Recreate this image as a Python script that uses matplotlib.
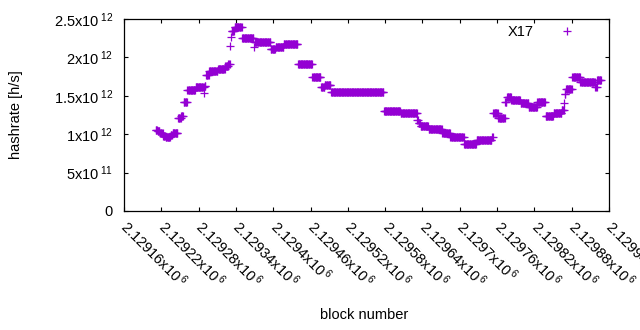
#!/usr/bin/env python3
"""Hashrate per block, gnuplot-like look. Writes out.png."""
import numpy as np
import matplotlib

matplotlib.use("Agg")
import matplotlib.pyplot as plt
from matplotlib.ticker import FuncFormatter, MultipleLocator

plt.rcParams.update(
    {
        "font.family": ["Liberation Sans", "DejaVu Sans"],
        "font.size": 10.5,
        "mathtext.fontset": "custom",
        "mathtext.rm": "Liberation Sans",
        "mathtext.it": "Liberation Sans",
        "mathtext.bf": "Liberation Sans",
    }
)

# block numbers are offsets from this one
block_base = 2129160
# runs of constant hashrate: first block, last block, hashrate (x10^12 h/s)
run_first = [51, 54, 58, 63, 67, 75, 78, 87, 92, 96, 102, 115, 129, 130, 132,
             137, 151, 163, 168, 171, 172, 173, 178, 190, 209, 210, 236, 244,
             257, 280, 303, 317, 323, 333, 418, 445, 472, 474, 477, 490, 512,
             525, 547, 567, 592, 594, 602, 613, 616, 623, 638, 651, 665, 678,
             691, 704, 708, 709, 711, 721, 734, 758, 761]
run_last = [53, 57, 62, 66, 74, 77, 86, 91, 95, 101, 114, 128, 129, 131, 136,
            150, 162, 167, 170, 171, 172, 177, 189, 208, 209, 235, 243, 256,
            279, 302, 316, 322, 332, 417, 444, 471, 473, 476, 489, 511, 524,
            546, 566, 591, 593, 601, 612, 615, 622, 637, 650, 664, 677, 690,
            703, 707, 708, 710, 720, 733, 757, 760, 767]
run_rate = [1.06, 1.04, 1.01, 0.98, 0.96, 0.99, 1.02, 1.21, 1.24, 1.42, 1.57,
            1.61, 1.53, 1.63, 1.77, 1.82, 1.85, 1.89, 1.92, 2.15, 2.26, 2.34,
            2.39, 2.25, 2.14, 2.20, 2.11, 2.13, 2.17, 1.91, 1.75, 1.62, 1.64,
            1.55, 1.30, 1.27, 1.19, 1.15, 1.11, 1.07, 1.01, 0.96, 0.87, 0.93,
            0.97, 1.27, 1.21, 1.42, 1.48, 1.45, 1.40, 1.36, 1.415, 1.24, 1.28,
            1.31, 1.40, 1.52, 1.59, 1.74, 1.68, 1.61, 1.71]
series_name = "X17"


def sci_label(v, _pos=None):
    if v == 0:
        return "0"
    exp = int(np.floor(np.log10(abs(v)) + 1e-9))
    mant = v / 10**exp
    return f"{mant:g}x10$^{{\\;{exp}}}$"


def main() -> None:
    blocks = np.concatenate(
        [np.arange(a, b + 1) for a, b in zip(run_first, run_last)]
    ) + block_base
    rates = np.concatenate(
        [np.full(b - a + 1, r) for a, b, r in zip(run_first, run_last, run_rate)]
    ) * 1e12

    fig = plt.figure(figsize=(6.4, 3.3), dpi=100)
    ax = fig.add_axes([124 / 640, 1 - 211 / 330, 485 / 640, 192 / 330])
    ax.plot(blocks, rates, ls="none", marker="+", ms=6, mew=0.9,
            color="#9400d3", label=series_name)

    ax.set_xlim(block_base, block_base + 780)
    ax.set_ylim(0, 2.5e12)
    ax.xaxis.set_major_locator(MultipleLocator(60))
    ax.yaxis.set_major_locator(MultipleLocator(5e11))
    ax.xaxis.set_major_formatter(FuncFormatter(sci_label))
    ax.yaxis.set_major_formatter(FuncFormatter(sci_label))
    ax.tick_params(direction="in", length=3, width=0.8, top=True, right=True)
    ax.tick_params(axis="y", pad=8)
    ax.tick_params(axis="x", pad=9)
    for lab in ax.get_xticklabels():
        lab.set_rotation(-45)
        lab.set_rotation_mode("anchor")
        lab.set_ha("left")
        lab.set_va("center")
    for s in ax.spines.values():
        s.set_linewidth(0.9)

    ax.set_xlabel("block number")
    ax.set_ylabel("hashrate [h/s]")
    ax.xaxis.set_label_coords((364 - 124) / 485, (211 - 315) / 192)
    ax.xaxis.label.set_va("center")
    ax.yaxis.set_label_coords((16 - 124) / 485, 0.5)
    ax.yaxis.label.set_va("center")

    ax.legend(loc="center right", bbox_to_anchor=((582 - 124) / 485, (211 - 32) / 192),
              frameon=False, markerfirst=False, numpoints=1, handlelength=2,
              handletextpad=1.33, borderpad=0, borderaxespad=0)

    fig.savefig("out.png", dpi=100)


if __name__ == "__main__":
    main()
